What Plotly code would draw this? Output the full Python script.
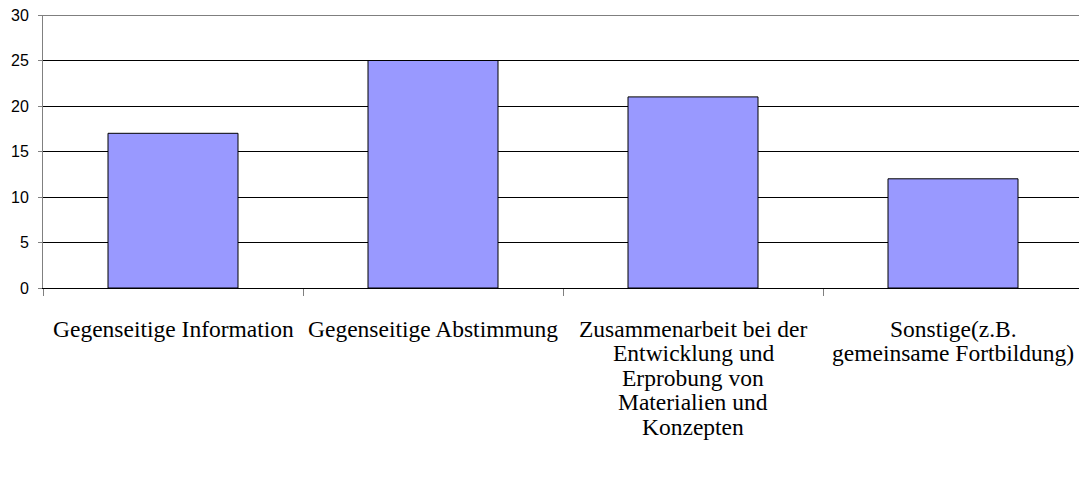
import plotly.graph_objects as go

categories = [
    "Gegenseitige Information",
    "Gegenseitige Abstimmung",
    "Zusammenarbeit bei der Entwicklung und Erprobung von Materialien und Konzepten",
    "Sonstige(z.B. gemeinsame Fortbildung)",
]
label_lines = [
    ["Gegenseitige Information"],
    ["Gegenseitige Abstimmung"],
    ["Zusammenarbeit bei der", "Entwicklung und", "Erprobung von", "Materialien und", "Konzepten"],
    ["Sonstige(z.B.", "gemeinsame Fortbildung)"],
]
values = [17, 25, 21, 12]
y_ticks = [0, 5, 10, 15, 20, 25, 30]

fig = go.Figure()
fig.add_trace(go.Bar(
    x=categories, y=values, width=0.5,
    marker=dict(color="#9999FF", line=dict(color="black", width=1)),
    hoverinfo="x+y",
))

annotations = []
for cat, lines in zip(categories, label_lines):
    for i, line in enumerate(lines):
        annotations.append(dict(
            x=cat, xref="x", y=0, yref="paper",
            text=line, showarrow=False,
            xanchor="center", yanchor="middle",
            yshift=-(41 + 24.4 * i),
            font=dict(family="Liberation Serif, Times New Roman, serif", size=23.5, color="black"),
        ))

# top gridline (at the highest tick) is drawn explicitly since it sits on the plot edge
fig.add_shape(type="line", xref="paper", x0=0, x1=1, yref="y", y0=y_ticks[-1], y1=y_ticks[-1],
              line=dict(color="black", width=1), layer="above")

# page body has an 8px default margin; sizes below compensate for it
fig.update_layout(
    width=1079, height=463,
    margin=dict(l=35, r=4, t=7, b=183, autoexpand=False),
    paper_bgcolor="white", plot_bgcolor="white",
    showlegend=False,
    bargap=0.5,
    annotations=annotations,
    xaxis=dict(
        type="category",
        showticklabels=False,
        tickson="boundaries",
        ticks="outside", ticklen=7, tickcolor="#808080", tickwidth=1,
        showline=True, linecolor="black", linewidth=1,
        showgrid=False, zeroline=False, automargin=False,
    ),
    yaxis=dict(
        range=[0, 30], tickvals=y_ticks, ticktext=[str(v) for v in y_ticks],
        ticks="outside", ticklen=4, tickcolor="#808080", tickwidth=1,
        showline=True, linecolor="#808080", linewidth=1,
        showgrid=True, gridcolor="black", gridwidth=1,
        zeroline=False, automargin=False,
        ticklabeloverflow="allow",
        tickfont=dict(family="Liberation Sans, Arial, sans-serif", size=16, color="black"),
        ticklabelstandoff=6,
    ),
)

fig.write_html("out.html")
